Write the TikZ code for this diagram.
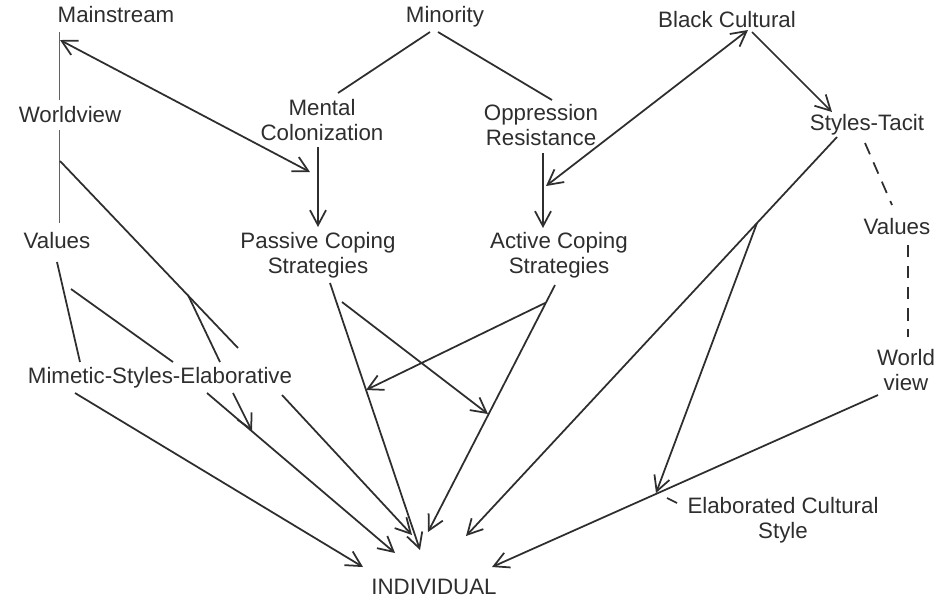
\documentclass[tikz,border=0pt]{standalone}
\usepackage{fontspec}
\setmainfont{Liberation Sans}
\usepackage{tikz}
\usetikzlibrary{arrows.meta, calc}

\definecolor{ink}{HTML}{2E2E2E}

\begin{document}
\begin{tikzpicture}[x=0.02cm, y=-0.02cm, >={Straight Barb[length=3mm, width=3.2mm]},
  every path/.style={ink, line width=1pt},
  label node/.style={text=ink, inner sep=0pt, align=center, font=\fontsize{12.7}{14.2}\selectfont},
  thin line/.style={draw=ink!75, line width=0.5pt},
  dash line/.style={dash pattern=on 7pt off 5pt}]
\useasboundingbox (0,0) rectangle (949,600);

\node [label node] (main)    at (116,15)  {Mainstream};
\node [label node] (minor)   at (445,17)  {Minority};
\node [label node] (black)   at (727,20)  {Black Cultural};
\node [label node] (wview)   at (70,115)  {Worldview};
\node [label node] (mental)  at (322,120) {Mental\\Colonization};
\node [label node] (oppr)    at (541,125) {Oppression\\Resistance};
\node [label node] (tacit)   at (867,125) {Styles-Tacit};
\node [label node] (valL)    at (57,241)  {Values};
\node [label node] (passive) at (318,255) {Passive Coping\\Strategies};
\node [label node] (active)  at (559,255) {Active Coping\\Strategies};
\node [label node] (valR)    at (897,227) {Values};
\node [label node] (world)   at (906,370) {World\\view};
\node [label node] (mimetic) at (160,378) {Mimetic-Styles-Elaborative};
\node [label node] (elab)    at (783,520) {Elaborated Cultural\\Style};
\node [label node] (indiv)   at (434,587) {INDIVIDUAL};

\coordinate (j1) at (546,186);
\coordinate (j2) at (757,223);
\coordinate (j3) at (656,493);
\coordinate (j4) at (366,390);
\coordinate (j5) at (488,414);
\coordinate (j6) at (188,295);
\coordinate (j7) at (252,431);
\coordinate (j8) at (71,289);

\draw [thin line] ($(main)+(-57,17)$) -- ($(wview)+(-11,-15)$);
\draw [thin line] ($(wview)+(-11,15)$) -- ($(valL)+(2,-18)$);
\draw [<->] ($(main)+(-56,25)$) -- ($(mental)+(-12,52)$);

\draw ($(minor)+(-15,15)$) -- ($(mental)+(16,-27)$);
\draw ($(minor)+(-7,15)$) -- ($(oppr)+(11,-25)$);
\draw [->] ($(mental)+(-4,27)$) -- ($(passive)+(0,-28)$);
\draw [->] ($(oppr)+(2,28)$) -- ($(active)+(-16,-27)$);
\draw [<->] (j1) -- ($(black)+(21,10)$);
\draw [->] ($(black)+(25,12)$) -- ($(tacit)+(-35,-13)$);

\draw [dash line] ($(tacit)+(-2,18)$) -- ($(valR)+(-5,-22)$);
\draw [dash line] ($(valR)+(11,18)$) -- ($(world)+(2,-33)$);
\draw [->] ($(tacit)+(-30,12)$) -- ($(indiv)+(32,-51)$);
\draw [->] (j2) -- (j3);
\draw [->] ($(world)+(-28,25)$) -- ($(indiv)+(58,-20)$);
\draw ($(elab)+(-106,-17)$) -- ($(elab)+(-116,-22)$);

\draw [->] ($(active)+(-4,30)$) -- ($(indiv)+(-6,-55)$);
\draw [->] ($(active)+(-14,48)$) -- (j4);
\draw [->] ($(passive)+(12,28)$) -- ($(indiv)+(-14,-37)$);
\draw [->] ($(passive)+(24,47)$) -- (j5);

\draw ($(valL)+(0,21)$) -- ($(mimetic)+(-80,-16)$);
\draw (j8) -- ($(mimetic)+(13,-16)$);
\draw ($(wview)+(-10,46)$) -- ($(mimetic)+(78,-30)$);
\draw (j6) -- ($(mimetic)+(60,-16)$);
\draw [->] ($(mimetic)+(73,15)$) -- (j7);
\draw [->] ($(mimetic)+(-85,15)$) -- ($(indiv)+(-71,-20)$);
\draw [->] ($(mimetic)+(47,15)$) -- ($(indiv)+(-39,-34)$);
\draw [->] ($(mimetic)+(122,17)$) -- ($(indiv)+(-22,-52)$);
\end{tikzpicture}
\end{document}
